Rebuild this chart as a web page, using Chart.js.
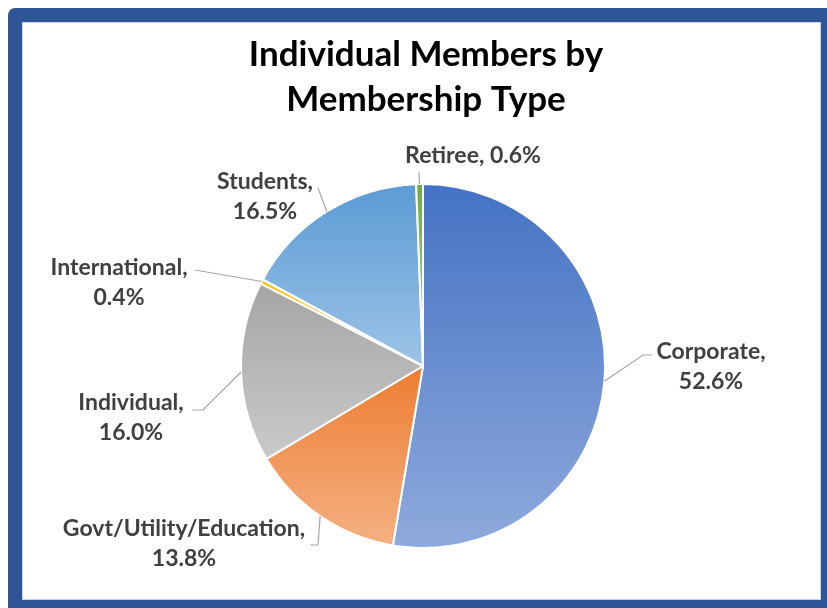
<!DOCTYPE html>
<html><head><meta charset="utf-8">
<script src="https://cdn.jsdelivr.net/npm/chart.js@4"></script>
<style>
html,body{margin:0;padding:0;width:827px;height:608px;overflow:hidden;background:#fff;}
#frame{position:absolute;left:8px;top:8px;width:799px;height:578px;border:14px solid #2F5597;border-radius:7px;background:#fff;box-shadow:inset 0 0 0 1px #c9d3e6;}
#wrap{position:absolute;left:0;top:0;width:827px;height:608px;}
</style></head><body>
<div id="frame"></div>
<div id="wrap"><canvas id="c" width="827" height="608"></canvas></div>
<script>
// ---- data ----
const categories = ['Corporate', 'Govt/Utility/Education', 'Individual', 'International', 'Students', 'Retiree'];
const values = [52.6, 13.8, 16.0, 0.4, 16.5, 0.6];
const titleLines = ['Individual Members by', 'Membership Type'];

// ---- styles ----
const darkColors  = ['#4472C4', '#ED7D31', '#A5A5A5', '#FFC000', '#5B9BD5', '#70AD47'];
const lightColors = ['#8FAADC', '#F4B183', '#CACACA', '#FFD966', '#9DC3E6', '#A9D18E'];
// label placement: text centre x, first line middle y, leader elbow points
const labelLayout = [
  {x: 711, y: 352, pts: [[643, 355], [652, 355]]},
  {x: 184, y: 529, pts: [[318, 545], [310, 545]]},
  {x: 131, y: 403, pts: [[203, 410], [192, 410]]},
  {x: 119, y: 268, pts: [[195, 270]]},
  {x: 265, y: 182, pts: [[318, 188]]},
  {x: 473, y: 156, pts: [[419, 172]], single: true}
];

function fmt(v) { return v.toFixed(1) + '%'; }

function sliceGradient(ctx) {
  const chart = ctx.chart;
  const i = ctx.dataIndex;
  const area = chart.chartArea;
  if (!area) return darkColors[i];
  const cx = (area.left + area.right) / 2, cy = (area.top + area.bottom) / 2;
  const r = Math.min(area.right - area.left, area.bottom - area.top) / 2;
  const total = values.reduce((a, b) => a + b, 0);
  let before = 0;
  for (let k = 0; k < i; k++) before += values[k];
  const a0 = -Math.PI / 2 + before / total * 2 * Math.PI;
  const a1 = a0 + values[i] / total * 2 * Math.PI;
  let minY = cy, maxY = cy;
  const N = 60;
  for (let s = 0; s <= N; s++) {
    const a = a0 + (a1 - a0) * s / N;
    const y = cy + r * Math.sin(a);
    minY = Math.min(minY, y); maxY = Math.max(maxY, y);
  }
  if (maxY - minY < 1) maxY = minY + 1;
  const g = chart.ctx.createLinearGradient(0, minY, 0, maxY);
  g.addColorStop(0, darkColors[i]);
  g.addColorStop(1, lightColors[i]);
  return g;
}

const labelPlugin = {
  id: 'outLabels',
  afterDatasetsDraw(chart) {
    const ctx = chart.ctx;
    const meta = chart.getDatasetMeta(0);
    ctx.save();
    // title
    ctx.fillStyle = '#000000';
    ctx.font = 'bold 35px Lato';
    ctx.textAlign = 'center';
    ctx.textBaseline = 'middle';
    ctx.fillText(titleLines[0], 426, 55);
    ctx.fillText(titleLines[1], 426, 100);
    // labels
    meta.data.forEach((arc, i) => {
      const L = labelLayout[i];
      const mid = (arc.startAngle + arc.endAngle) / 2;
      const sx = arc.x + arc.outerRadius * Math.cos(mid);
      const sy = arc.y + arc.outerRadius * Math.sin(mid);
      ctx.strokeStyle = '#A6A6A6';
      ctx.lineWidth = 1.2;
      ctx.beginPath();
      ctx.moveTo(sx, sy);
      L.pts.forEach(p => ctx.lineTo(p[0], p[1]));
      ctx.stroke();
      ctx.fillStyle = '#404040';
      ctx.font = 'bold 23px Lato';
      ctx.textAlign = 'center';
      ctx.textBaseline = 'middle';
      if (L.single) {
        ctx.fillText(categories[i] + ', ' + fmt(values[i]), L.x, L.y);
      } else {
        ctx.fillText(categories[i] + ',', L.x, L.y);
        ctx.fillText(fmt(values[i]), L.x, L.y + 30);
      }
    });
    ctx.restore();
  }
};

new Chart(document.getElementById('c'), {
  type: 'pie',
  data: {
    labels: categories,
    datasets: [{
      data: values,
      backgroundColor: sliceGradient,
      borderColor: '#FFFFFF',
      borderWidth: 2
    }]
  },
  options: {
    responsive: false,
    animation: false,
    layout: {padding: {left: 240, right: 221, top: 183, bottom: 59}},
    plugins: {legend: {display: false}, tooltip: {enabled: false}, title: {display: false}}
  },
  plugins: [labelPlugin]
});
</script>
</body></html>
